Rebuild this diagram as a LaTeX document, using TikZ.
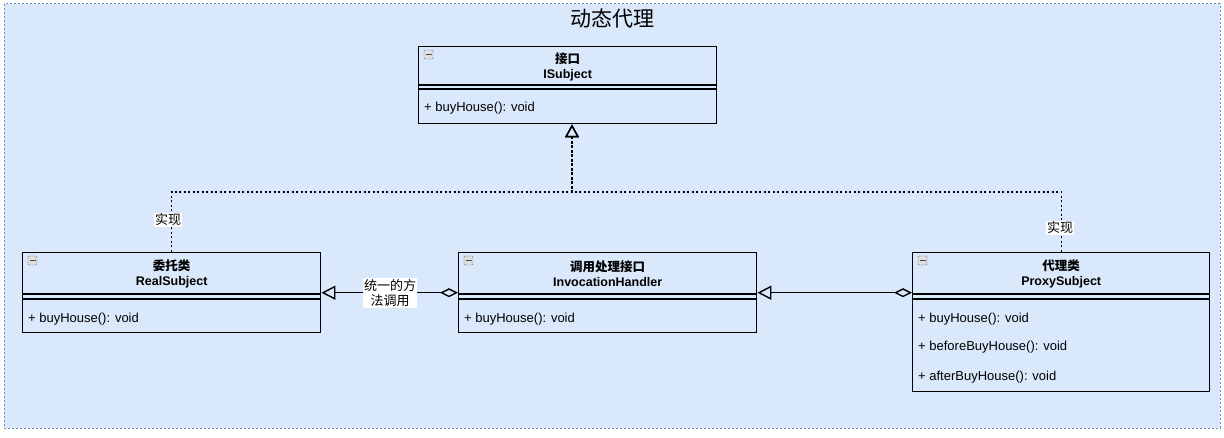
\documentclass[tikz,border=0pt]{standalone}
\usepackage{fontspec}
\setmainfont{Liberation Sans}
\newfontfamily\cjk{Noto Sans CJK SC}
\usetikzlibrary{calc,arrows.meta}
\definecolor{fondbleu}{HTML}{DAE8FC}
\definecolor{bordbleu}{HTML}{6C8EBF}
\tikzset{
	classe/.style={draw,line width=1.4pt,rectangle,inner sep=0pt,anchor=north west},
	entete/.style={font=\bfseries\fontsize{12.5}{15}\selectfont,align=center,inner sep=0pt},
	methode/.style={font=\fontsize{13}{15}\selectfont,anchor=west,inner sep=0pt},
	etiquette/.style={fill=white,inner sep=1pt,font=\cjk\fontsize{13}{15}\selectfont,align=center},
	realise/.style={line width=1.4pt,dash pattern=on 2pt off 2.5pt,-{Triangle[open,length=13pt,width=14pt,line width=1.4pt]}},
	agregation/.style={line width=1.4pt,{Diamond[open,length=18pt,width=9pt]}-{Triangle[open,length=14pt,width=14pt]}},
}

\begin{document}
\begin{tikzpicture}[x=1pt,y=-1pt]
		\useasboundingbox (0,0) rectangle (1224,438);
		\fill[white] (0,0) rectangle (1224,438);
		% fond du conteneur
		\draw[fill=fondbleu,draw=bordbleu,line width=1pt,dash pattern=on 2pt off 2pt] (4,4) rectangle (1220,428);
		\node[font=\cjk\fontsize{21}{24}\selectfont] (titre) at (612,19) {动态代理};
		% les quatre classes
		\node[classe,minimum width=298pt,minimum height=77pt] (isubject) at (418,46) {};
		\node[classe,minimum width=298pt,minimum height=80pt] (realsubject) at (22,252) {};
		\node[classe,minimum width=298pt,minimum height=80pt] (invocation) at (458,252) {};
		\node[classe,minimum width=297pt,minimum height=139pt] (proxy) at (912,252) {};
		% entetes
		\node[entete] (isubjectnom) at ($(isubject.north)+(0,21)$) {{\cjk 接口}\\ISubject};
		\node[entete] (realsubjectnom) at ($(realsubject.north)+(0,21.5)$) {{\cjk 委托类}\\RealSubject};
		\node[entete] (invocationnom) at ($(invocation.north)+(0,21.5)$) {{\cjk 调用处理接口}\\InvocationHandler};
		\node[entete] (proxynom) at ($(proxy.north)+(0,21.5)$) {{\cjk 代理类}\\ProxySubject};
		% double trait sous l'entete
		\draw[line width=1.4pt] ([yshift=-39pt]isubject.north west) -- ([yshift=-39pt]isubject.north east);
		\draw[line width=1.4pt] ([yshift=-43pt]isubject.north west) -- ([yshift=-43pt]isubject.north east);
		\foreach \c in {realsubject,invocation,proxy}{%
			\draw[line width=1.4pt] ([yshift=-42pt]\c.north west) -- ([yshift=-42pt]\c.north east);
			\draw[line width=1.4pt] ([yshift=-47pt]\c.north west) -- ([yshift=-47pt]\c.north east);
			}
		% petites icones de repli
		\foreach \c in {isubject,realsubject,invocation,proxy}{%
			\draw[gray,fill=gray!25,rounded corners=1pt] ([shift={(6,4)}]\c.north west) rectangle ++(9,9);
			\draw[gray!60!black,line width=1pt] ([shift={(7.5,8.5)}]\c.north west) -- ++(6,0);
			}
		% methodes
		\node[methode] (isubjectm) at ([shift={(6,62)}]isubject.north west) {+ buyHouse(): void};
		\node[methode] (realsubjectm) at ([shift={(6,67)}]realsubject.north west) {+ buyHouse(): void};
		\node[methode] (invocationm) at ([shift={(6,67)}]invocation.north west) {+ buyHouse(): void};
		\node[methode] (proxym1) at ([shift={(6,67)}]proxy.north west) {+ buyHouse(): void};
		\node[methode] (proxym2) at ([shift={(6,95)}]proxy.north west) {+ beforeBuyHouse(): void};
		\node[methode] (proxym3) at ([shift={(6,125)}]proxy.north west) {+ afterBuyHouse(): void};
		% realisation de l'interface
		\coordinate (jonction) at (572,192);
		\draw[realise] (realsubject.north) |- (jonction) -- (jonction |- isubject.south);
		\draw[realise] (proxy.north) |- (jonction) -- (jonction |- isubject.south);
		\node[etiquette] (realise1) at (168,220) {实现};
		\node[etiquette] (realise2) at (1060,228) {实现};
		% agregations
		\draw[agregation] (invocation.west) -- (realsubject.east);
		\draw[agregation] (proxy.west |- invocation.west) -- (invocation.east);
		\node[etiquette] (appel) at (390,293) {统一的方\\法调用};
	\end{tikzpicture}
\end{document}
